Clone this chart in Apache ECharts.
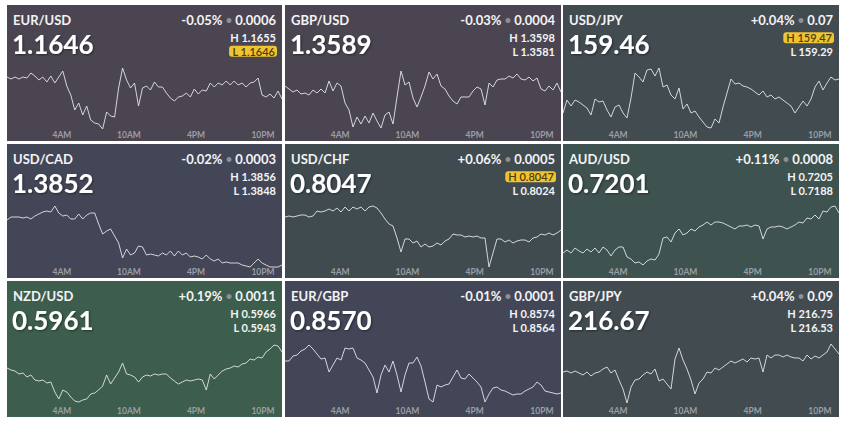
<!DOCTYPE html>
<html>
<head>
<meta charset="utf-8">
<script src="https://cdn.jsdelivr.net/npm/echarts@6/dist/echarts.min.js"></script>
<style>
  html, body { margin: 0; padding: 0; background: #fff; }
  #fx { width: 845px; height: 425px; }
</style>
</head>
<body>
<div id="fx"></div>
<script>
// pairs, quotes and intraday prices
const pairs = ['EUR/USD', 'GBP/USD', 'USD/JPY', 'USD/CAD', 'USD/CHF', 'AUD/USD', 'NZD/USD', 'EUR/GBP', 'GBP/JPY'];
const lastPrices = ['1.1646', '1.3589', '159.46', '1.3852', '0.8047', '0.7201', '0.5961', '0.8570', '216.67'];
const changePct = ['-0.05%', '-0.03%', '+0.04%', '-0.02%', '+0.06%', '+0.11%', '+0.19%', '-0.01%', '+0.04%'];
const changeAbs = ['0.0006', '0.0004', '0.07', '0.0003', '0.0005', '0.0008', '0.0011', '0.0001', '0.09'];
const highs = ['1.1655', '1.3598', '159.47', '1.3856', '0.8047', '0.7205', '0.5966', '0.8574', '216.75'];
const lows = ['1.1646', '1.3581', '159.29', '1.3848', '0.8024', '0.7188', '0.5943', '0.8564', '216.53'];
// which of high / low the last price is sitting on
const atExtreme = ['L', '', 'H', '', 'H', '', '', '', ''];

const hourTicks = [4, 10, 16, 22];
const hourLabels = ['4AM', '10AM', '4PM', '10PM'];
const startHour = -0.92;
const endHour = 23.7;

const eurusd = [1.16464,1.16462,1.16464,1.16462,1.16464,1.16463,1.16468,1.16465,1.16461,1.16464,
  1.16459,1.16465,1.16458,1.16464,1.16470,1.16455,1.16446,1.16431,1.16438,1.16426,
  1.16435,1.16421,1.16418,1.16417,1.16412,1.16429,1.16425,1.16424,1.16453,1.16473,
  1.16461,1.16453,1.16458,1.16435,1.16453,1.16455,1.16451,1.16459,1.16454,1.16454,
  1.16448,1.16443,1.16440,1.16444,1.16445,1.16448,1.16444,1.16452,1.16447,1.16451,
  1.16450,1.16458,1.16454,1.16458,1.16456,1.16460,1.16456,1.16460,1.16456,1.16458,
  1.16454,1.16458,1.16459,1.16463,1.16446,1.16444,1.16447,1.16443,1.16450,1.16442];
const gbpusd = [1.35855,1.35852,1.35849,1.35851,1.35847,1.35848,1.35846,1.35851,1.35848,1.35852,
  1.35848,1.35860,1.35850,1.35858,1.35855,1.35838,1.35831,1.35814,1.35824,1.35817,
  1.35825,1.35818,1.35828,1.35820,1.35813,1.35826,1.35829,1.35817,1.35844,1.35870,
  1.35856,1.35859,1.35843,1.35834,1.35844,1.35855,1.35869,1.35862,1.35867,1.35855,
  1.35852,1.35845,1.35840,1.35837,1.35844,1.35844,1.35844,1.35850,1.35854,1.35852,
  1.35836,1.35858,1.35854,1.35861,1.35862,1.35862,1.35865,1.35863,1.35867,1.35862,
  1.35861,1.35864,1.35860,1.35863,1.35852,1.35850,1.35855,1.35851,1.35858,1.35849];
const usdjpy = [159.328,159.341,159.335,159.341,159.339,159.336,159.333,159.326,159.342,159.339,
  159.340,159.331,159.324,159.334,159.336,159.328,159.323,159.343,159.368,159.364,
  159.359,159.371,159.372,159.365,159.373,159.354,159.356,159.346,159.342,159.353,
  159.332,159.337,159.328,159.330,159.324,159.319,159.314,159.313,159.322,159.318,
  159.334,159.348,159.362,159.357,159.358,159.355,159.354,159.352,159.349,159.346,
  159.350,159.344,159.346,159.342,159.344,159.341,159.338,159.335,159.328,159.334,
  159.340,159.335,159.342,159.354,159.360,159.351,159.358,159.364,159.361,159.362];
const usdcad = [1.38458,1.38461,1.38461,1.38461,1.38460,1.38461,1.38459,1.38462,1.38464,1.38466,
  1.38467,1.38466,1.38472,1.38465,1.38462,1.38463,1.38459,1.38459,1.38464,1.38459,
  1.38463,1.38465,1.38465,1.38454,1.38444,1.38447,1.38449,1.38442,1.38435,1.38420,
  1.38429,1.38423,1.38425,1.38432,1.38431,1.38423,1.38424,1.38423,1.38422,1.38425,
  1.38423,1.38427,1.38422,1.38427,1.38423,1.38425,1.38421,1.38422,1.38421,1.38419,
  1.38423,1.38419,1.38417,1.38419,1.38415,1.38416,1.38415,1.38415,1.38415,1.38413,
  1.38412,1.38411,1.38415,1.38419,1.38415,1.38413,1.38411,1.38411,1.38411,1.38413];
const usdchf = [0.80261,0.80262,0.80261,0.80262,0.80263,0.80263,0.80261,0.80262,0.80267,0.80266,
  0.80267,0.80269,0.80267,0.80270,0.80266,0.80271,0.80267,0.80271,0.80269,0.80271,
  0.80267,0.80271,0.80272,0.80270,0.80265,0.80259,0.80254,0.80252,0.80240,0.80226,
  0.80239,0.80239,0.80235,0.80237,0.80231,0.80234,0.80231,0.80232,0.80235,0.80233,
  0.80237,0.80239,0.80244,0.80243,0.80243,0.80241,0.80242,0.80241,0.80242,0.80240,
  0.80240,0.80211,0.80225,0.80239,0.80239,0.80236,0.80238,0.80235,0.80237,0.80238,
  0.80238,0.80236,0.80240,0.80241,0.80244,0.80243,0.80245,0.80243,0.80245,0.80248];
const audusd = [0.71825,0.71828,0.71825,0.71830,0.71827,0.71825,0.71829,0.71826,0.71830,0.71825,
  0.71831,0.71828,0.71822,0.71828,0.71831,0.71831,0.71821,0.71819,0.71815,0.71816,
  0.71813,0.71817,0.71819,0.71818,0.71824,0.71840,0.71841,0.71836,0.71845,0.71849,
  0.71843,0.71845,0.71849,0.71847,0.71851,0.71853,0.71856,0.71853,0.71856,0.71856,
  0.71855,0.71853,0.71851,0.71849,0.71852,0.71852,0.71853,0.71851,0.71853,0.71852,
  0.71839,0.71849,0.71851,0.71851,0.71852,0.71851,0.71849,0.71851,0.71853,0.71856,
  0.71855,0.71860,0.71859,0.71863,0.71859,0.71867,0.71866,0.71871,0.71872,0.71865];
const nzdusd = [0.59449,0.59447,0.59446,0.59443,0.59444,0.59440,0.59442,0.59437,0.59436,0.59437,
  0.59434,0.59435,0.59425,0.59418,0.59427,0.59425,0.59420,0.59416,0.59415,0.59417,
  0.59418,0.59423,0.59424,0.59427,0.59431,0.59442,0.59433,0.59439,0.59445,0.59454,
  0.59443,0.59442,0.59440,0.59435,0.59440,0.59442,0.59441,0.59443,0.59442,0.59443,
  0.59443,0.59439,0.59436,0.59433,0.59435,0.59437,0.59436,0.59437,0.59438,0.59437,
  0.59427,0.59443,0.59438,0.59442,0.59446,0.59448,0.59449,0.59451,0.59450,0.59453,
  0.59454,0.59458,0.59457,0.59460,0.59459,0.59465,0.59468,0.59472,0.59471,0.59465];
const eurgbp = [0.85656,0.85656,0.85661,0.85662,0.85666,0.85668,0.85672,0.85668,0.85663,0.85658,
  0.85659,0.85645,0.85652,0.85659,0.85657,0.85669,0.85668,0.85669,0.85659,0.85657,
  0.85654,0.85647,0.85640,0.85624,0.85642,0.85652,0.85645,0.85656,0.85642,0.85625,
  0.85642,0.85654,0.85654,0.85660,0.85651,0.85635,0.85618,0.85615,0.85632,0.85630,
  0.85632,0.85633,0.85640,0.85647,0.85639,0.85638,0.85643,0.85639,0.85635,0.85630,
  0.85615,0.85623,0.85629,0.85630,0.85627,0.85626,0.85624,0.85622,0.85623,0.85623,
  0.85626,0.85628,0.85630,0.85635,0.85632,0.85626,0.85625,0.85624,0.85623,0.85624];
const gbpjpy = [216.545,216.546,216.544,216.546,216.544,216.542,216.545,216.541,216.544,216.545,
  216.548,216.550,216.544,216.547,216.537,216.528,216.514,216.530,216.537,216.538,
  216.542,216.545,216.543,216.548,216.536,216.538,216.533,216.528,216.558,216.569,
  216.557,216.548,216.537,216.523,216.534,216.538,216.545,216.544,216.549,216.547,
  216.550,216.553,216.556,216.554,216.556,216.558,216.555,216.559,216.558,216.559,
  216.545,216.562,216.559,216.562,216.562,216.560,216.562,216.560,216.559,216.559,
  216.556,216.562,216.558,216.561,216.559,216.562,216.565,216.573,216.568,216.563];

const priceSeries = [eurusd, gbpusd, usdjpy, usdcad, usdchf, audusd, nzdusd, eurgbp, gbpjpy];

// hidden price axis range for each panel
const axisMin = [1.164, 1.358, 159.3, 1.384, 0.802, 0.718, 0.594, 0.856, 216.5];
const axisMax = [1.16536, 1.35936, 159.436, 1.38534, 0.80334, 0.71934, 0.59536, 0.85736, 216.636];

const panelColors = ['#4b4551', '#4b4551', '#414b50', '#424656', '#404b50', '#3e524f', '#3d5e4c', '#434657', '#424b50'];
const FONT = 'Lato, "Open Sans", sans-serif';

const colX = [7, 285, 563], colW = [275, 276, 276];
const rowY = [5, 144, 281], rowH = [136, 134, 136];

const myChart = echarts.init(document.getElementById('fx'), null, { renderer: 'svg' });

const grids = [], xAxes = [], yAxes = [], series = [], graphics = [];

function txt(x, y, text, opts) {
  const style = Object.assign({
    text: text, fill: '#f3f3f5', font: 'bold 12px ' + FONT, lineHeight: 12,
    align: 'left', verticalAlign: 'middle', textVerticalAlign: 'middle'
  }, opts || {});
  style.textAlign = style.align;
  return { type: 'text', x: x, y: y, z: 100, silent: true, style: style };
}

pairs.forEach(function (name, k) {
  const c = k % 3, r = Math.floor(k / 3);
  const left = colX[c], top = rowY[r], w = colW[c], h = rowH[r];
  const right = left + w - 6;

  grids.push({ left: left, top: top, width: w, height: h, show: true,
    backgroundColor: panelColors[k], borderWidth: 0 });
  xAxes.push({
    type: 'value', gridIndex: k, min: startHour, max: endHour,
    axisLine: { show: false }, axisTick: { show: false }, splitLine: { show: false },
    axisLabel: {
      inside: true, margin: 2, customValues: hourTicks,
      formatter: function (v) { return hourLabels[hourTicks.indexOf(v)]; },
      color: '#9b9ea5', fontSize: 8.5, fontWeight: 'bold', fontFamily: FONT
    }
  });
  yAxes.push({ type: 'value', gridIndex: k, min: axisMin[k], max: axisMax[k], show: false });

  const vals = priceSeries[k];
  const step = (endHour - startHour) / (vals.length - 1);
  series.push({
    type: 'line', xAxisIndex: k, yAxisIndex: k, symbol: 'none', silent: true,
    data: vals.map(function (v, i) { return [startHour + i * step, v]; }),
    lineStyle: { color: 'rgba(228,228,233,0.9)', width: 1 }
  });

  // header texts
  graphics.push(txt(left + 6, top + 14.8, name, { font: 'bold 13px ' + FONT, lineHeight: 12 }));
  graphics.push(txt(left + 5, top + 38.6, lastPrices[k], {
    font: 'bold 26px ' + FONT, fill: '#ffffff', lineHeight: 24,
    textShadowColor: 'rgba(0,0,0,0.45)', textShadowBlur: 2, textShadowOffsetX: 1, textShadowOffsetY: 1
  }));
  graphics.push(txt(right, top + 14.8, '{v|' + changePct[k] + '} {d|•} {v|' + changeAbs[k] + '}', {
    align: 'right', font: 'bold 13px ' + FONT, lineHeight: 12,
    rich: {
      v: { fill: '#f3f3f5', font: 'bold 13px ' + FONT, lineHeight: 12 },
      d: { fill: '#8d9096', font: 'bold 11px ' + FONT, lineHeight: 12 }
    }
  }));
  const hl = [['H', highs[k], top + 32.7], ['L', lows[k], top + 46.3]];
  hl.forEach(function (row) {
    const hit = atExtreme[k] === row[0];
    const label = row[0] + ' ' + row[1];
    if (hit) {
      graphics.push(txt(right + 1, row[2], '{b|' + label + '}', {
        align: 'right', font: 'bold 11px ' + FONT, lineHeight: 11,
        rich: { b: { fill: '#4a3c10', font: '600 11px ' + FONT, lineHeight: 11,
          backgroundColor: '#f0c331', borderRadius: 3, padding: [0, 2, 0, 3] } }
      }));
    } else {
      graphics.push(txt(right, row[2], label, { align: 'right', font: 'bold 11px ' + FONT, lineHeight: 11 }));
    }
  });
});

const option = {
  animation: false,
  backgroundColor: '#ffffff',
  grid: grids,
  xAxis: xAxes,
  yAxis: yAxes,
  series: series,
  graphic: { elements: graphics }
};

myChart.setOption(option);
</script>
</body>
</html>
